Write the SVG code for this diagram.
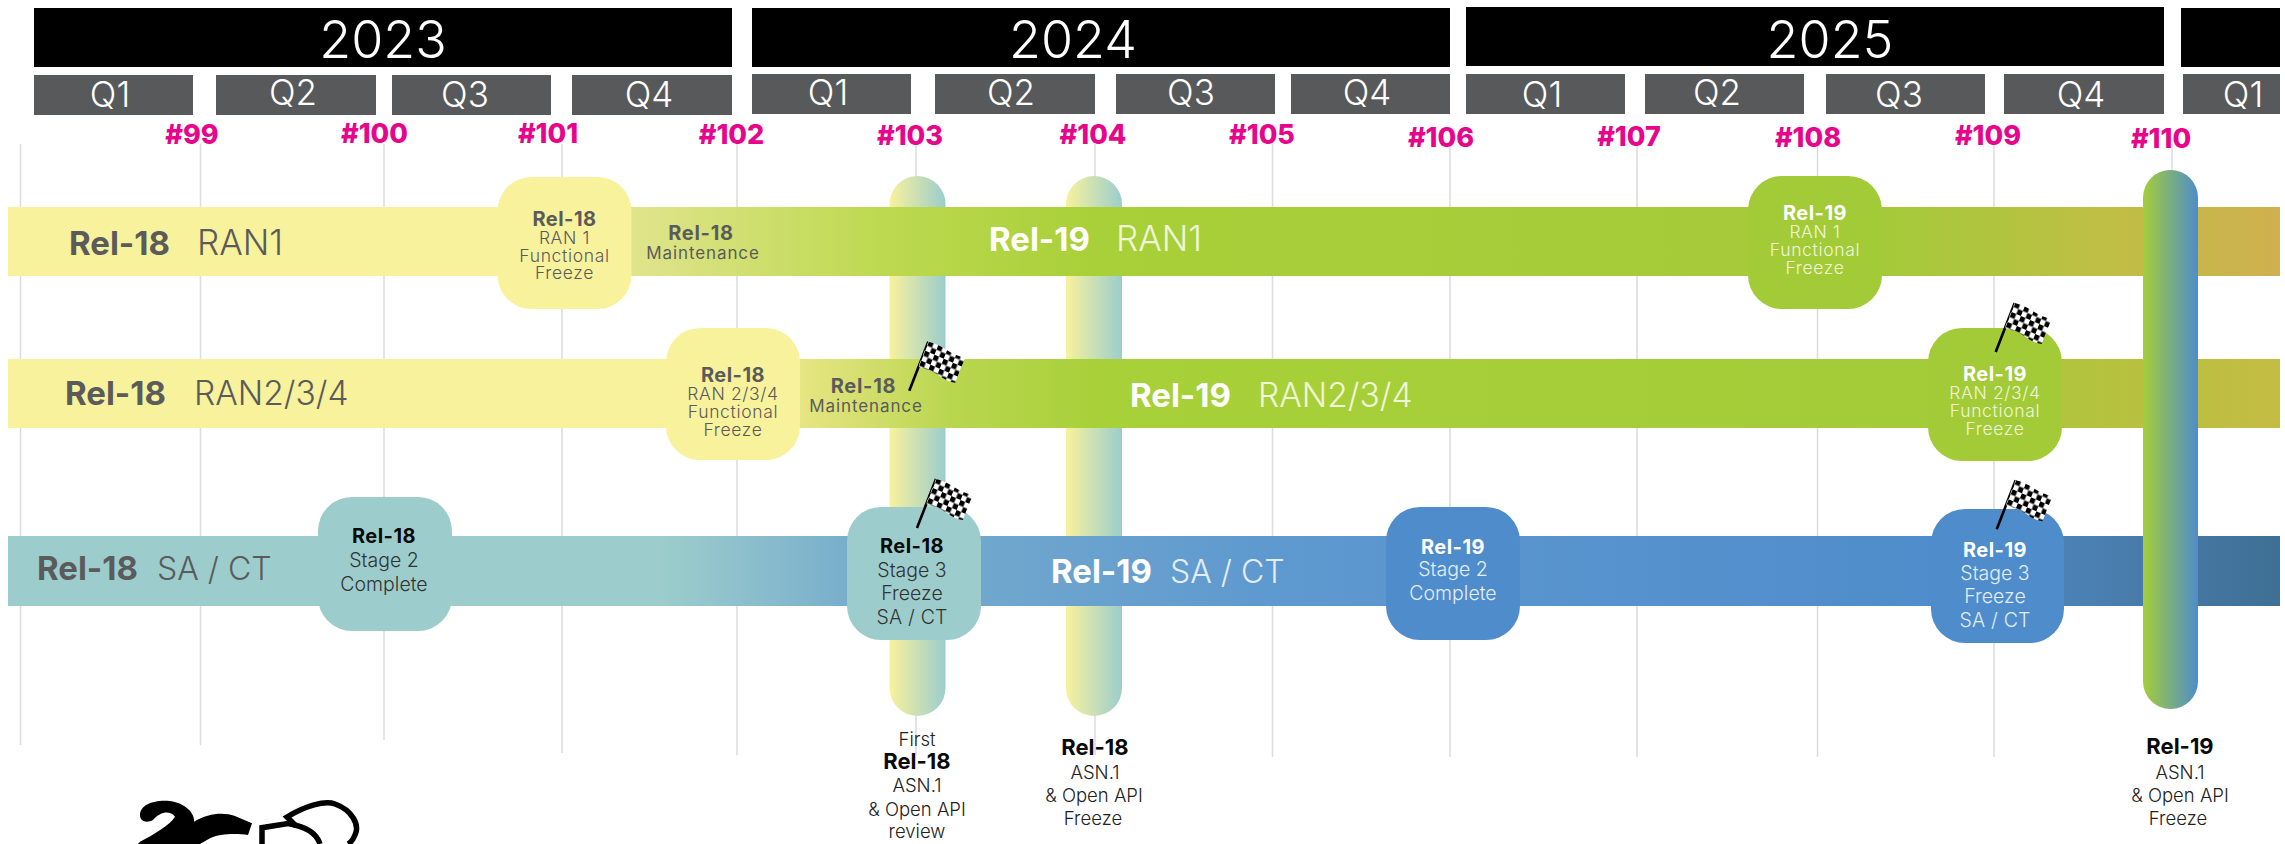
<svg xmlns="http://www.w3.org/2000/svg" xmlns:xlink="http://www.w3.org/1999/xlink" width="2285" height="844" viewBox="0 0 2285 844">
<style>
text{font-family:Inter,"Open Sans","Liberation Sans",sans-serif;text-anchor:middle}
.yr{fill:#000}
.q{fill:#58595b}
.yt{font-size:52px;font-weight:300;fill:#fff}
.qt{font-size:35px;font-weight:300;fill:#fff}
.mt{font-size:27px;font-weight:800;fill:#e6058c}
.grid{stroke:#dcdcdc;stroke-width:1.5;fill:none}
.lb{font-size:33px;font-weight:700;text-anchor:start}
.l1{font-size:35px;font-weight:300;text-anchor:start}
.l2{font-size:33.500px;font-weight:300;text-anchor:start}
.l3{font-size:32px;font-weight:300;text-anchor:start}
.g{fill:#5b5b5b}
.w{fill:#fff}
.lg{fill:#f0f6d8}
.lu{fill:#e3edf7}
.nb{font-size:20px;font-weight:700;letter-spacing:.5px}
.nl{font-size:17.500px;font-weight:300;letter-spacing:.65px}
.nm{font-size:19.500px;font-weight:300}
.sc{word-spacing:-2.500px}
.d{fill:#333}
.k{fill:#0a0a0a}
.mb{font-size:20px;font-weight:700;fill:#5b5b5b;letter-spacing:.7px}
.ml{font-size:17px;font-weight:400;fill:#5b5b5b;letter-spacing:.9px}
.cap{font-size:18.500px;font-weight:300;fill:#222}
.capb{font-size:22px;font-weight:700;fill:#0a0a0a}
.logo{fill:none;stroke:#000;stroke-width:5.500}
</style>
<defs>
<linearGradient id="bar1" gradientUnits="userSpaceOnUse" x1="8" y1="0" x2="2280" y2="0">
<stop offset="0.248" stop-color="#f8f29c"/><stop offset="0.274" stop-color="#e0e48c"/><stop offset="0.384" stop-color="#bdd950"/><stop offset="0.48" stop-color="#a8d038"/><stop offset="0.833" stop-color="#a6c93a"/><stop offset="0.92" stop-color="#bebf44"/><stop offset="1" stop-color="#cfb04f"/>
</linearGradient>
<linearGradient id="bar2" gradientUnits="userSpaceOnUse" x1="8" y1="0" x2="2280" y2="0">
<stop offset="0.335" stop-color="#f8f29c"/><stop offset="0.35" stop-color="#e6e582"/><stop offset="0.415" stop-color="#b9d64f"/><stop offset="0.48" stop-color="#a8d038"/><stop offset="0.845" stop-color="#a4cc38"/><stop offset="0.905" stop-color="#b2c43d"/><stop offset="1" stop-color="#c4bc44"/>
</linearGradient>
<linearGradient id="bar3" gradientUnits="userSpaceOnUse" x1="8" y1="0" x2="2280" y2="0">
<stop offset="0.288" stop-color="#9ccdcc"/><stop offset="0.37" stop-color="#78aecc"/><stop offset="0.44" stop-color="#6fa6ce"/><stop offset="0.555" stop-color="#5e99cf"/><stop offset="0.847" stop-color="#4f8ccb"/><stop offset="0.908" stop-color="#4c81b5"/><stop offset="1" stop-color="#3f6f94"/>
</linearGradient>
<linearGradient id="pill18"><stop offset="0" stop-color="#f8f29c"/><stop offset="1" stop-color="#9ccdcc"/></linearGradient>
<linearGradient id="pill19"><stop offset="0" stop-color="#a4ce39"/><stop offset="1" stop-color="#4f8ccb"/></linearGradient>
<pattern id="chk" patternUnits="userSpaceOnUse" width="2" height="2" patternTransform="matrix(4.600 2 -2 5 0 0)">
<rect width="2" height="2" fill="#fff"/><rect width="1" height="1" fill="#000"/><rect x="1" y="1" width="1" height="1" fill="#000"/>
</pattern>
<g id="flag">
<path d="M0 0L19-49" stroke="#000" stroke-width="2.600" fill="none"/>
<path d="M19-49Q28-47 37-41T56-33Q50-20 46-8Q38-9 30-15T9-24Z" fill="url(#chk)"/>
</g>
</defs>
<rect width="2285" height="844" fill="#fff"/>
<g id="years">
<rect class="yr" x="34" y="8" width="698" height="59"/><text class="yt" x="383" y="58">2023</text>
<rect class="yr" x="752" y="8" width="698" height="59"/><text class="yt" x="1073" y="58">2024</text>
<rect class="yr" x="1466" y="7" width="698" height="59"/><text class="yt" x="1830" y="58">2025</text>
<rect class="yr" x="2181" y="8" width="99" height="59"/>
</g>
<g id="quarters">
<rect class="q" x="34" y="75" width="159" height="40"/><text class="qt" x="110" y="107">Q1</text>
<rect class="q" x="216" y="75" width="160" height="40"/><text class="qt" x="293" y="105">Q2</text>
<rect class="q" x="392" y="75" width="159" height="40"/><text class="qt" x="465" y="107">Q3</text>
<rect class="q" x="572" y="75" width="160" height="40"/><text class="qt" x="649" y="107">Q4</text>
<rect class="q" x="752" y="74" width="159" height="40"/><text class="qt" x="828" y="105">Q1</text>
<rect class="q" x="935" y="74" width="160" height="40"/><text class="qt" x="1011" y="105">Q2</text>
<rect class="q" x="1116" y="74" width="159" height="40"/><text class="qt" x="1191" y="105">Q3</text>
<rect class="q" x="1291" y="74" width="159" height="40"/><text class="qt" x="1367" y="105">Q4</text>
<rect class="q" x="1466" y="74" width="159" height="40"/><text class="qt" x="1542" y="107">Q1</text>
<rect class="q" x="1645" y="74" width="159" height="40"/><text class="qt" x="1717" y="105">Q2</text>
<rect class="q" x="1826" y="74" width="159" height="40"/><text class="qt" x="1899" y="107">Q3</text>
<rect class="q" x="2004" y="74" width="160" height="40"/><text class="qt" x="2081" y="107">Q4</text>
<rect class="q" x="2183" y="74" width="97" height="40"/><text class="qt" x="2243" y="107">Q1</text>
</g>
<g id="connectors">
<path class="grid" d="M20.500 144V745M200.500 144V745M384 144V740M562 144V753M737 144V755M916 144V755M1095 144V755M1272.500 144V757M1450 144V757M1637 144V757M1817.500 144V757M1994 144V757M2172 144V300"/>
</g>
<g id="meetings">
<text class="mt" x="192" y="144">#99</text><text class="mt" x="374.500" y="143">#100</text><text class="mt" x="548" y="143">#101</text><text class="mt" x="731.500" y="144">#102</text>
<text class="mt" x="910" y="145">#103</text><text class="mt" x="1093" y="144">#104</text><text class="mt" x="1262" y="144">#105</text><text class="mt" x="1441" y="147">#106</text>
<text class="mt" x="1629" y="146">#107</text><text class="mt" x="1808" y="147">#108</text><text class="mt" x="1988" y="145">#109</text><text class="mt" x="2161" y="148">#110</text>
</g>
<g id="asn-review"><rect x="889.500" y="176" width="56" height="540" rx="28" fill="url(#pill18)"/></g>
<g id="asn-freeze-18"><rect x="1066" y="176" width="56" height="540" rx="28" fill="url(#pill18)"/></g>
<g id="bars">
<rect id="bar-ran1" x="8" y="207" width="2272" height="69" fill="url(#bar1)"/>
<rect id="bar-ran234" x="8" y="359" width="2272" height="69" fill="url(#bar2)"/>
<rect id="bar-sact" x="8" y="536" width="2272" height="70" fill="url(#bar3)"/>
</g>
<g id="asn-freeze-19"><rect x="2143" y="170" width="55" height="539" rx="27.500" fill="url(#pill19)"/></g>
<g id="bar-labels">
<text class="lb g" x="69" y="255">Rel-18</text><text class="l1 g" x="197" y="255">RAN1</text>
<text class="lb g" x="65" y="405">Rel-18</text><text class="l2 g" x="194" y="405">RAN2/3/4</text>
<text class="lb g" x="37" y="580">Rel-18</text><text class="l3 g" x="157" y="580">SA / CT</text>
<text class="lb w" x="989" y="251">Rel-19</text><text class="l1 lg" x="1116" y="251">RAN1</text>
<text class="lb w" x="1130" y="407">Rel-19</text><text class="l2 lg" x="1258" y="407">RAN2/3/4</text>
<text class="lb w" x="1051" y="583">Rel-19</text><text class="l3 lu" x="1170" y="583">SA / CT</text>
<text class="mb" x="701" y="240">Rel-18</text><text class="ml" x="703" y="259">Maintenance</text>
<text class="mb" x="863.500" y="393">Rel-18</text><text class="ml" x="866" y="412">Maintenance</text>
</g>
<g id="node-r18-ran1">
<rect x="497.500" y="177" width="134" height="132" rx="34" fill="#f8f29c"/>
<text class="nb g" x="564.500" y="226">Rel-18</text><text class="nl g" x="564.500" y="244">RAN 1</text><text class="nl g" x="564.500" y="261.500">Functional</text><text class="nl g" x="564.500" y="279">Freeze</text>
</g>
<g id="node-r18-ran234">
<rect x="666" y="328" width="134" height="132" rx="34" fill="#f8f29c"/>
<text class="nb g" x="733" y="382">Rel-18</text><text class="nl g" x="733" y="400">RAN 2/3/4</text><text class="nl g" x="733" y="418">Functional</text><text class="nl g" x="733" y="436">Freeze</text>
</g>
<g id="node-r18-stage2">
<rect x="318" y="497" width="134" height="134" rx="34" fill="#9ccdcc"/>
<text class="nb k" x="384" y="543">Rel-18</text><text class="nm d" x="384" y="567">Stage 2</text><text class="nm d" x="384" y="591">Complete</text>
</g>
<g id="node-r18-stage3">
<rect x="847" y="507" width="134" height="133" rx="34" fill="#9ccdcc"/>
<text class="nb k" x="912" y="553">Rel-18</text><text class="nm d" x="912" y="577">Stage 3</text><text class="nm d" x="912" y="600">Freeze</text><text class="nm d sc" x="912" y="624" xml:space="preserve">SA  /  CT</text>
</g>
<g id="node-r19-ran1">
<rect x="1748" y="176" width="134" height="133" rx="34" fill="#a2cb37"/>
<text class="nb w" x="1815" y="220">Rel-19</text><text class="nl lg" x="1815" y="238">RAN 1</text><text class="nl lg" x="1815" y="256">Functional</text><text class="nl lg" x="1815" y="273.500">Freeze</text>
</g>
<g id="node-r19-ran234">
<rect x="1928" y="328" width="134" height="133" rx="34" fill="#a2cb37"/>
<text class="nb w" x="1995" y="381">Rel-19</text><text class="nl lg" x="1995" y="399">RAN 2/3/4</text><text class="nl lg" x="1995" y="417">Functional</text><text class="nl lg" x="1995" y="435">Freeze</text>
</g>
<g id="node-r19-stage2">
<rect x="1386" y="507" width="134" height="133" rx="34" fill="#4f8ccb"/>
<text class="nb w" x="1453" y="554">Rel-19</text><text class="nm lu" x="1453" y="576">Stage 2</text><text class="nm lu" x="1453" y="600">Complete</text>
</g>
<g id="node-r19-stage3">
<rect x="1931" y="509" width="133" height="134" rx="34" fill="#4f8ccb"/>
<text class="nb w" x="1995" y="557">Rel-19</text><text class="nm lu" x="1995" y="580">Stage 3</text><text class="nm lu" x="1995" y="603">Freeze</text><text class="nm lu sc" x="1995" y="627" xml:space="preserve">SA  /  CT</text>
</g>
<g id="flags">
<use xlink:href="#flag" href="#flag" x="909.300" y="390.700"/>
<use xlink:href="#flag" href="#flag" x="917" y="528"/>
<use xlink:href="#flag" href="#flag" x="1995.700" y="352"/>
<use xlink:href="#flag" href="#flag" x="1996.700" y="529.300"/>
</g>
<g id="captions">
<text class="cap" x="917" y="745.500">First</text><text class="capb" x="917" y="769">Rel-18</text><text class="cap" x="917" y="792">ASN.1</text><text class="cap" x="917" y="815.500">&amp; Open API</text><text class="cap" x="917" y="838">review</text>
<text class="capb" x="1095" y="755">Rel-18</text><text class="cap" x="1095" y="779">ASN.1</text><text class="cap" x="1094" y="802">&amp; Open API</text><text class="cap" x="1093" y="825">Freeze</text>
<text class="capb" x="2180" y="754">Rel-19</text><text class="cap" x="2180" y="779">ASN.1</text><text class="cap" x="2180" y="802">&amp; Open API</text><text class="cap" x="2178" y="825">Freeze</text>
</g>
<g id="logo">
<path d="M140 815C140 805 153 800 167 800.700C183 801.700 195 811.700 194 821.700C208 813.300 223 811.700 235 816L252 823.300L248 835C237 833.300 220 833.300 210 838.300L200 844L138 844L140 841.700C153 835 170 825 175 816.700C170 810 160 811.700 153 820C147 823.300 140 821.700 140 815Z" fill="#000"/>
<path class="logo" d="M262 844V827.700L288 823.500Q315 828 320 844"/>
<path class="logo" d="M296 826L287 817C305 806 325 800 335 804C352 810 360 825 355 835Q352 842 348 844"/>
</g>
</svg>
